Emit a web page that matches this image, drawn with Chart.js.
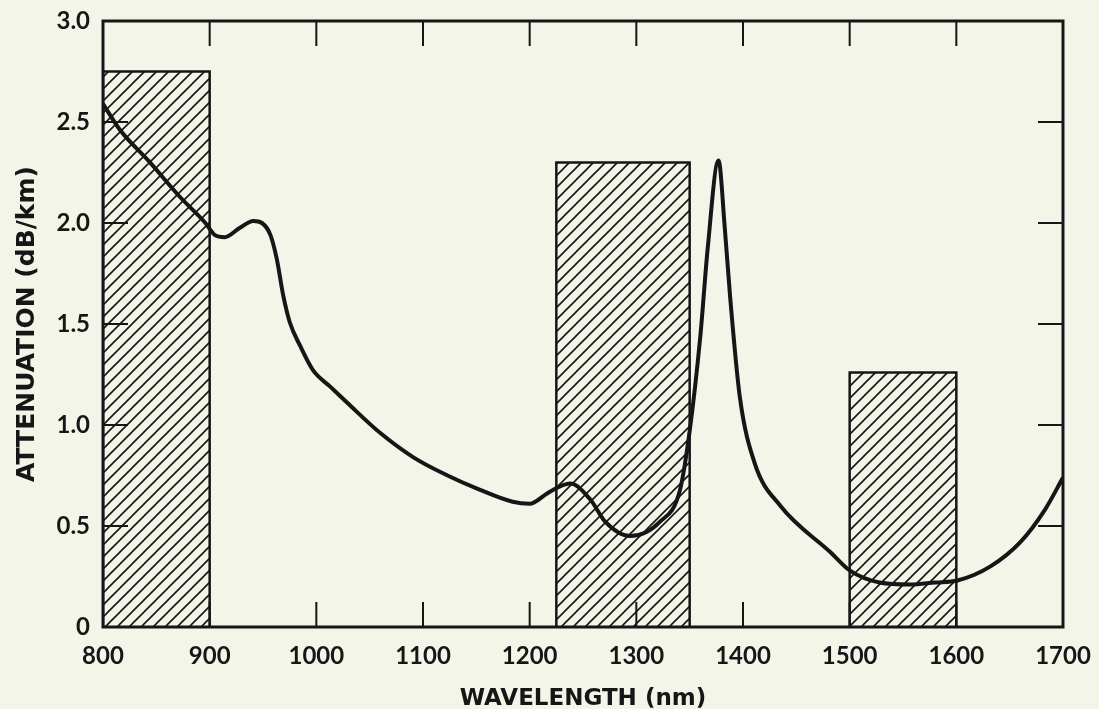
<!DOCTYPE html>
<html lang="en">
<head>
    <meta charset="UTF-8" />
    <title>Attenuation vs wavelength</title>
    <script src="https://cdn.jsdelivr.net/npm/chart.js"></script>
    <style>
        body { margin: 0; background: #f4f5e9; }
        canvas { display: block; }
    </style>
</head>

<body>

<canvas id="chart" width="1099" height="709"></canvas>

<script>
// attenuation curve (nm, dB/km)
const wavelength = [800, 816, 844, 872, 896, 905, 914, 928, 941, 949, 957, 963, 969, 975, 985,
    997, 1013, 1029, 1060, 1091, 1123, 1153, 1184, 1200, 1216, 1226, 1238, 1257, 1271, 1294,
    1322, 1341, 1350, 1360, 1367, 1377, 1383, 1388, 1397, 1411, 1435, 1482, 1500, 1528, 1557,
    1580, 1601, 1632, 1660, 1683, 1700];
const attenuation = [2.59, 2.46, 2.30, 2.13, 2.00, 1.94, 1.93, 1.975, 2.01, 2.00, 1.94, 1.82, 1.64, 1.51, 1.39,
    1.27, 1.19, 1.11, 0.96, 0.84, 0.75, 0.68, 0.62, 0.61, 0.66, 0.69, 0.71, 0.63, 0.52, 0.45,
    0.52, 0.68, 0.97, 1.44, 1.88, 2.31, 1.97, 1.63, 1.14, 0.81, 0.60, 0.37, 0.28, 0.22, 0.21,
    0.22, 0.23, 0.30, 0.42, 0.58, 0.74];

// hatched windows
const bandStart = [800, 1225, 1500];
const bandEnd = [900, 1350, 1600];
const bandTop = [2.75, 2.30, 1.26];

const xTicks = [800, 900, 1000, 1100, 1200, 1300, 1400, 1500, 1600, 1700];
const yTicks = [0, 0.5, 1.0, 1.5, 2.0, 2.5, 3.0];

const ink = "#161616";
const TICK = 25;

let canvas = document.getElementById("chart");
let ctx = canvas.getContext("2d");

// diagonal hatch
function hatch() {
    let c = document.createElement("canvas");
    c.width = 12; c.height = 12;
    let g = c.getContext("2d");
    g.strokeStyle = ink;
    g.lineWidth = 1.6;
    g.beginPath();
    g.moveTo(-1, 13); g.lineTo(13, -1);
    g.moveTo(-1, 1); g.lineTo(1, -1);
    g.moveTo(11, 13); g.lineTo(13, 11);
    g.stroke();
    return ctx.createPattern(c, "repeat");
}
const pattern = hatch();

// box + inward ticks on all four sides
const frameTicks = {
    id: "frameTicks",
    afterDatasetsDraw(chart) {
        const {ctx, chartArea: a, scales: {x, y}} = chart;
        ctx.save();
        ctx.strokeStyle = ink;
        ctx.lineWidth = 2;
        ctx.beginPath();
        xTicks.forEach(v => {
            if (v <= x.min || v >= x.max) return;
            const px = x.getPixelForValue(v);
            ctx.moveTo(px, a.bottom); ctx.lineTo(px, a.bottom - TICK);
            ctx.moveTo(px, a.top); ctx.lineTo(px, a.top + TICK);
        });
        yTicks.forEach(v => {
            if (v <= y.min || v >= y.max) return;
            const py = y.getPixelForValue(v);
            ctx.moveTo(a.left, py); ctx.lineTo(a.left + TICK, py);
            ctx.moveTo(a.right, py); ctx.lineTo(a.right - TICK, py);
        });
        ctx.stroke();
        ctx.lineWidth = 3;
        ctx.strokeRect(a.left, a.top, a.right - a.left, a.bottom - a.top);
        ctx.restore();
    }
};

let bandSets = bandStart.map((s, i) => ({
    data: [{x: s, y: 0}, {x: s, y: bandTop[i]}, {x: bandEnd[i], y: bandTop[i]}, {x: bandEnd[i], y: 0}],
    fill: "origin",
    backgroundColor: pattern,
    borderColor: ink,
    borderWidth: 2.5,
    pointRadius: 0,
    tension: 0,
    order: 2
}));

let curveSet = {
    data: wavelength.map((w, i) => ({x: w, y: attenuation[i]})),
    borderColor: ink,
    borderWidth: 4,
    pointRadius: 0,
    fill: false,
    cubicInterpolationMode: "monotone",
    order: 1
};

const tickFont = {family: "Lato", weight: "bold", size: 24};

new Chart(ctx, {
    type: "line",
    data: { datasets: [curveSet, ...bandSets] },
    options: {
        responsive: false,
        animation: false,
        layout: { padding: {top: 21, right: 36, bottom: 0, left: 0} },
        plugins: { legend: {display: false}, tooltip: {enabled: false} },
        scales: {
            x: {
                type: "linear",
                min: 800,
                max: 1700,
                afterBuildTicks: s => { s.ticks = xTicks.map(v => ({value: v})); },
                afterFit: s => { s.height = 82; s.paddingLeft = 0; s.paddingRight = 0; },
                grid: {display: false, drawTicks: false},
                border: {display: false},
                ticks: {
                    font: tickFont, color: ink, padding: 15, maxRotation: 0, autoSkip: false,
                    callback: v => String(v)
                },
                title: {
                    display: true,
                    text: "WAVELENGTH (nm)",
                    color: ink,
                    font: {family: "DejaVu Sans", weight: "bold", size: 23, lineHeight: 1},
                    padding: {top: 0, bottom: -2}
                }
            },
            y: {
                min: 0,
                max: 3,
                afterBuildTicks: s => { s.ticks = yTicks.map(v => ({value: v})); },
                afterFit: s => { s.width = 103; s.paddingTop = 0; s.paddingBottom = 0; },
                grid: {display: false, drawTicks: false},
                border: {display: false},
                ticks: {
                    font: tickFont, color: ink, padding: 13,
                    callback: v => v === 0 ? "0" : v.toFixed(1)
                },
                title: {
                    display: true,
                    text: "ATTENUATION (dB/km)",
                    color: ink,
                    font: {family: "DejaVu Sans", weight: "bold", size: 25, lineHeight: 1},
                    padding: {top: 15, bottom: 0}
                }
            }
        }
    },
    plugins: [frameTicks]
});
</script>

</body>
</html>
